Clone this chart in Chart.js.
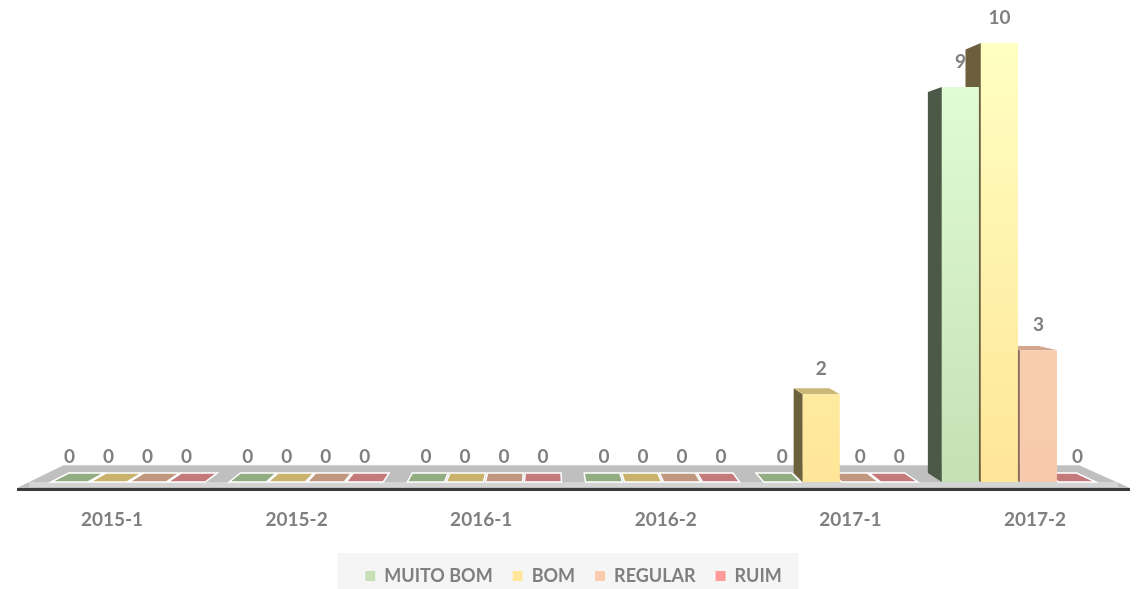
<!DOCTYPE html>
<html>
<head>
<meta charset="utf-8">
<script src="https://cdn.jsdelivr.net/npm/chart.js@4.4.0/dist/chart.umd.min.js"></script>
<style>
  html, body { margin: 0; padding: 0; background: #ffffff; }
  #wrap { width: 1140px; height: 589px; }
</style>
</head>
<body>
<div id="wrap"><canvas id="myChart" width="1140" height="589"></canvas></div>
<script>
// data
var categories = ["2015-1", "2015-2", "2016-1", "2016-2", "2017-1", "2017-2"];
var seriesNames = ["MUITO BOM", "BOM", "REGULAR", "RUIM"];
var muitoBom = [0, 0, 0, 0, 0, 9];
var bom = [0, 0, 0, 0, 2, 10];
var regular = [0, 0, 0, 0, 0, 3];
var ruim = [0, 0, 0, 0, 0, 0];

// look: front gradient (top, bottom), side face, top cap, flat floor plate
var looks = [
    { top: "#e3ffd9", bottom: "#c5e0b3", legend: "#c5e0b4", side: "#4b5946", cap: "#9fb48f", plate: "#93ad82" },
    { top: "#ffffc2", bottom: "#ffe597", legend: "#ffe699", side: "#6c5f3c", cap: "#cbb878", plate: "#c8b26c" },
    { top: "#fad2b8", bottom: "#f8caab", legend: "#f8cbad", side: "#86695a", cap: "#d3a58c", plate: "#c09880" },
    { top: "#ffa3a3", bottom: "#ff9b9b", legend: "#ff9b9b", side: "#8a5a5a", cap: "#cf8585", plate: "#c47a7a" }
];

var textGray = "#7f7f7f";
var fontFamily = "Lato, 'Open Sans', sans-serif";

function frontFill(i) {
    return function(context) {
        var area = context.chart.chartArea;
        if (!area) return looks[i].bottom;
        var g = context.chart.ctx.createLinearGradient(0, area.top, 0, area.bottom);
        g.addColorStop(0, looks[i].top);
        g.addColorStop(1, looks[i].bottom);
        return g;
    };
}

var values = [muitoBom, bom, regular, ruim];
var datasets = seriesNames.map(function(name, i) {
    return {
        label: name,
        data: values[i],
        backgroundColor: frontFill(i),
        borderWidth: 0,
        barPercentage: 0.95,
        categoryPercentage: 0.876
    };
});

// perspective helpers for the fake 3D look
function vanish(area) {
    return { x: area.left + 0.476 * area.width, y: area.top + 0.42 * area.height };
}
function back(p, v, k) {
    return [p[0] + k * (v.x - p[0]), p[1] + k * (v.y - p[1])];
}
function poly(ctx, pts, fill, stroke, lw) {
    ctx.beginPath();
    ctx.moveTo(pts[0][0], pts[0][1]);
    for (var i = 1; i < pts.length; i++) ctx.lineTo(pts[i][0], pts[i][1]);
    ctx.closePath();
    ctx.fillStyle = fill;
    ctx.fill();
    if (stroke) {
        ctx.strokeStyle = stroke;
        ctx.lineWidth = lw || 1;
        ctx.stroke();
    }
}

var fake3d = {
    id: "fake3d",
    beforeDraw: function(chart) {
        var ctx = chart.ctx;
        ctx.save();
        ctx.fillStyle = "#ffffff";
        ctx.fillRect(0, 0, chart.width, chart.height);
        // legend backdrop
        var hb = chart.legend.legendHitBoxes;
        if (hb && hb.length) {
            var first = hb[0], last = hb[hb.length - 1];
            ctx.fillStyle = "#f5f5f5";
            ctx.fillRect(first.left - 28, first.top - 14, last.left + last.width + 17 - (first.left - 28), chart.height - (first.top - 14));
        }
        ctx.restore();
    },
    beforeDatasetsDraw: function(chart) {
        var ctx = chart.ctx;
        var area = chart.chartArea;
        var v = vanish(area);
        ctx.save();
        // floor
        var y0 = area.bottom + 6;
        var fl = [area.left - 22, y0], fr = [area.right + 22, y0];
        poly(ctx, [fl, fr, back(fr, v, 0.0875), back(fl, v, 0.0875)], "#bfbfbf");
        ctx.fillStyle = "#d4d4d4";
        ctx.fillRect(area.left - 10, area.bottom, area.width + 20, 5);
        ctx.strokeStyle = "#3a3a3a";
        ctx.lineWidth = 3;
        ctx.beginPath();
        ctx.moveTo(area.left - 22, y0 + 1.5);
        ctx.lineTo(area.right + 22, y0 + 1.5);
        ctx.stroke();
        // plates, side faces and caps
        chart.data.datasets.forEach(function(ds, i) {
            var meta = chart.getDatasetMeta(i);
            meta.data.forEach(function(bar, j) {
                var p = bar.getProps(["x", "y", "base", "width"], true);
                var x1 = p.x - p.width / 2, x2 = p.x + p.width / 2;
                var k = 0.0355;
                if (ds.data[j] === 0) {
                    var a = [x1, p.base], b = [x2, p.base];
                    poly(ctx, [a, b, back(b, v, k), back(a, v, k)], looks[i].plate, "#ffffff", 1.5);
                    return;
                }
                var sx = p.x > v.x ? x1 : x2;
                var st = [sx, p.y], sb = [sx, p.base];
                poly(ctx, [st, back(st, v, k), back(sb, v, k), sb], looks[i].side);
                if (p.y > v.y) {
                    var c1 = [x1, p.y], c2 = [x2, p.y];
                    poly(ctx, [c1, c2, back(c2, v, k), back(c1, v, k)], looks[i].cap);
                }
            });
        });
        ctx.restore();
    },
    afterDatasetsDraw: function(chart) {
        var ctx = chart.ctx;
        ctx.save();
        ctx.font = "bold 19px " + fontFamily;
        ctx.fillStyle = textGray;
        ctx.textAlign = "center";
        ctx.textBaseline = "middle";
        chart.data.datasets.forEach(function(ds, i) {
            chart.getDatasetMeta(i).data.forEach(function(bar, j) {
                var p = bar.getProps(["x", "y"], true);
                ctx.fillText(String(ds.data[j]), p.x, p.y - 25);
            });
        });
        ctx.restore();
    }
};

var ctx = document.getElementById("myChart").getContext("2d");
var myChart = new Chart(ctx, {
    type: "bar",
    data: { labels: categories, datasets: datasets },
    plugins: [fake3d],
    options: {
        responsive: false,
        animation: false,
        layout: { padding: { top: 43, left: 39, right: 32, bottom: -6 } },
        scales: {
            x: { display: false },
            // labels sit in front of the floor, so they are spread a bit wider than the bars
            xLabels: {
                type: "linear",
                position: "bottom",
                min: -0.3955,
                max: 5.3955,
                bounds: "data",
                offset: false,
                grid: { display: false, drawTicks: false, offset: false },
                border: { display: false },
                afterBuildTicks: function(scale) {
                    scale.ticks = categories.map(function(c, i) { return { value: i }; });
                },
                afterFit: function(scale) { scale.height = 65; },
                ticks: {
                    autoSkip: false,
                    maxRotation: 0,
                    padding: 26,
                    color: textGray,
                    font: { family: fontFamily, size: 19, weight: "bold" },
                    callback: function(value) { return categories[value]; }
                }
            },
            y: { display: false, min: 0, max: 10 }
        },
        plugins: {
            legend: {
                position: "bottom",
                labels: {
                    boxWidth: 10,
                    boxHeight: 10,
                    padding: 20,
                    color: textGray,
                    font: { family: fontFamily, size: 18, weight: "bold" },
                    generateLabels: function(chart) {
                        return seriesNames.map(function(name, i) {
                            return { text: name, fillStyle: looks[i].legend, strokeStyle: looks[i].legend, lineWidth: 0, datasetIndex: i, fontColor: textGray };
                        });
                    }
                }
            },
            tooltip: { enabled: false }
        }
    }
});
</script>
</body>
</html>
